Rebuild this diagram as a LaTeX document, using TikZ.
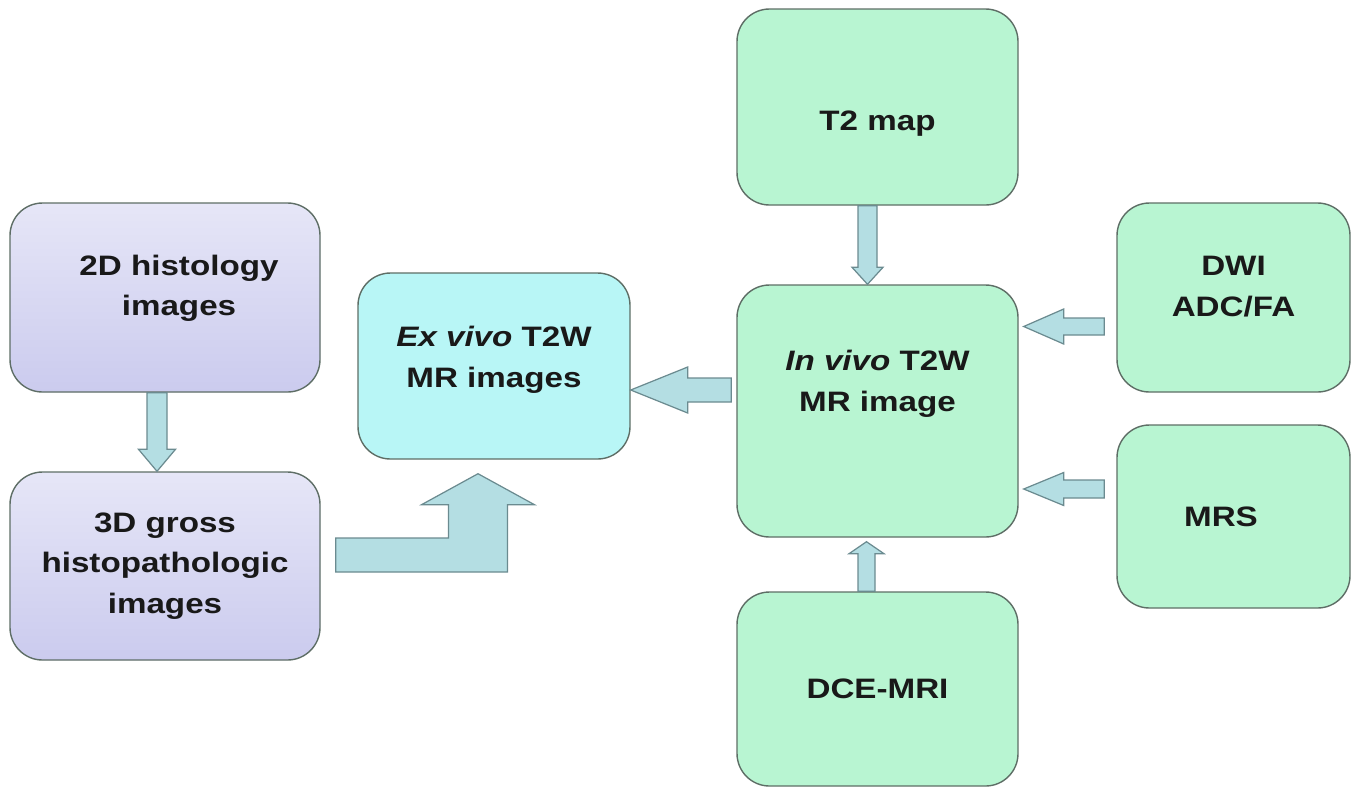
\documentclass[tikz,border=0pt]{standalone}
\usepackage{fontspec}
\setmainfont{Liberation Sans}[FakeStretch=1.18]
\usepackage{tikz}
\usetikzlibrary{calc}
\definecolor{mint}{HTML}{B8F5D2}
\definecolor{aqua}{HTML}{B8F6F6}
\definecolor{lavtop}{HTML}{E6E6F7}
\definecolor{lavbot}{HTML}{CBCBEE}
\definecolor{edge}{HTML}{5E6E66}
\definecolor{arrowfill}{HTML}{B4DEE3}
\definecolor{arrowedge}{HTML}{6B8B90}

\begin{document}
\begin{tikzpicture}[
  box/.style={draw=edge, line width=0.8pt, rounded corners=0.65cm, align=center, inner sep=0pt,
    font=\fontsize{16}{23}\selectfont\bfseries, text=black!90, fill=#1},
  fatline/.style={draw=arrowedge, fill=arrowfill, line width=0.7pt},
  % block arrow: shaft half width, head half width, head length
  fat/.style n args={3}{fatline, to path={let \p1=(\tikztostart), \p2=(\tikztotarget),
    \p3=($(\p2)!#3!(\p1)$) in
    ($(\p1)!#1!90:(\p2)$) -- ($(\p3)!#1!90:(\p2)$) -- ($(\p3)!#2!90:(\p2)$) -- (\p2)
    -- ($(\p3)!#2!-90:(\p2)$) -- ($(\p3)!#1!-90:(\p2)$) -- ($(\p1)!#1!-90:(\p2)$) -- cycle}},
]
\useasboundingbox (0,0) rectangle (27.14,-15.78);

\node[box=lavbot, top color=lavtop, bottom color=lavbot, minimum width=6.2cm, minimum height=3.78cm,
  text depth=0.48cm] (hist2d) at (3.30,-5.95) {\hspace*{0.56cm}2D histology\\\hspace*{0.56cm}images};
\node[box=lavbot, top color=lavtop, bottom color=lavbot, minimum width=6.2cm, minimum height=3.76cm]
  (gross3d) at (3.30,-11.32) {3D gross\\histopathologic\\images};
\node[box=aqua, minimum width=5.44cm, minimum height=3.72cm, text depth=0.36cm]
  (exvivo) at (9.88,-7.32) {\textit{Ex vivo} T2W\\MR images};
\node[box=mint, minimum width=5.62cm, minimum height=3.92cm, text height=1.04cm]
  (t2map) at (17.55,-2.14) {T2 map};
\node[box=mint, minimum width=5.62cm, minimum height=5.04cm, text depth=1.2cm]
  (invivo) at (17.55,-8.22) {\textit{In vivo} T2W\\MR image};
\node[box=mint, minimum width=5.62cm, minimum height=3.88cm]
  (dce) at (17.55,-13.78) {DCE-MRI};
\node[box=mint, minimum width=4.66cm, minimum height=3.78cm, text depth=0.45cm]
  (dwi) at (24.67,-5.95) {DWI\\ADC/FA};
\node[box=mint, minimum width=4.66cm, minimum height=3.66cm]
  (mrs) at (24.67,-10.33) {MRS\hspace*{0.5cm}};

\draw[fat={0.2cm}{0.37cm}{0.44cm}] ($(hist2d.south)+(-0.16,0)$) to ($(gross3d.north)+(-0.16,0)$);
\draw[fat={0.19cm}{0.31cm}{0.34cm}] ($(t2map.south)+(-0.2,0)$) to ($(invivo.north)+(-0.2,0)$);
\draw[fat={0.17cm}{0.35cm}{0.24cm}] ($(dce.north)+(-0.22,0)$) to ($(invivo.south)+(-0.22,-0.08)$);
\draw[fat={0.24cm}{0.46cm}{1.14cm}] ($(invivo.west)+(-0.1,0.42)$) to ($(exvivo.east)+(0,-0.48)$);
\draw[fat={0.17cm}{0.35cm}{0.8cm}] ($(dwi.west)+(-0.24,-0.58)$) to ($(invivo.east)+(0.1,1.69)$);
\draw[fat={0.18cm}{0.33cm}{0.8cm}] ($(mrs.west)+(-0.24,0.55)$) to ($(invivo.east)+(0.1,-1.56)$);
\draw[fatline] let \p1=($(gross3d.east)+(0.3,0.22)$), \p2=($(exvivo.south)+(-0.32,-0.28)$) in
  (\x1,\y1+0.34cm) -- (\x2-0.59cm,\y1+0.34cm) -- (\x2-0.59cm,\y2-0.62cm) -- (\x2-1.13cm,\y2-0.62cm)
  -- (\p2) -- (\x2+1.13cm,\y2-0.62cm) -- (\x2+0.59cm,\y2-0.62cm) -- (\x2+0.59cm,\y1-0.34cm)
  -- (\x1,\y1-0.34cm) -- cycle;
\end{tikzpicture}
\end{document}
